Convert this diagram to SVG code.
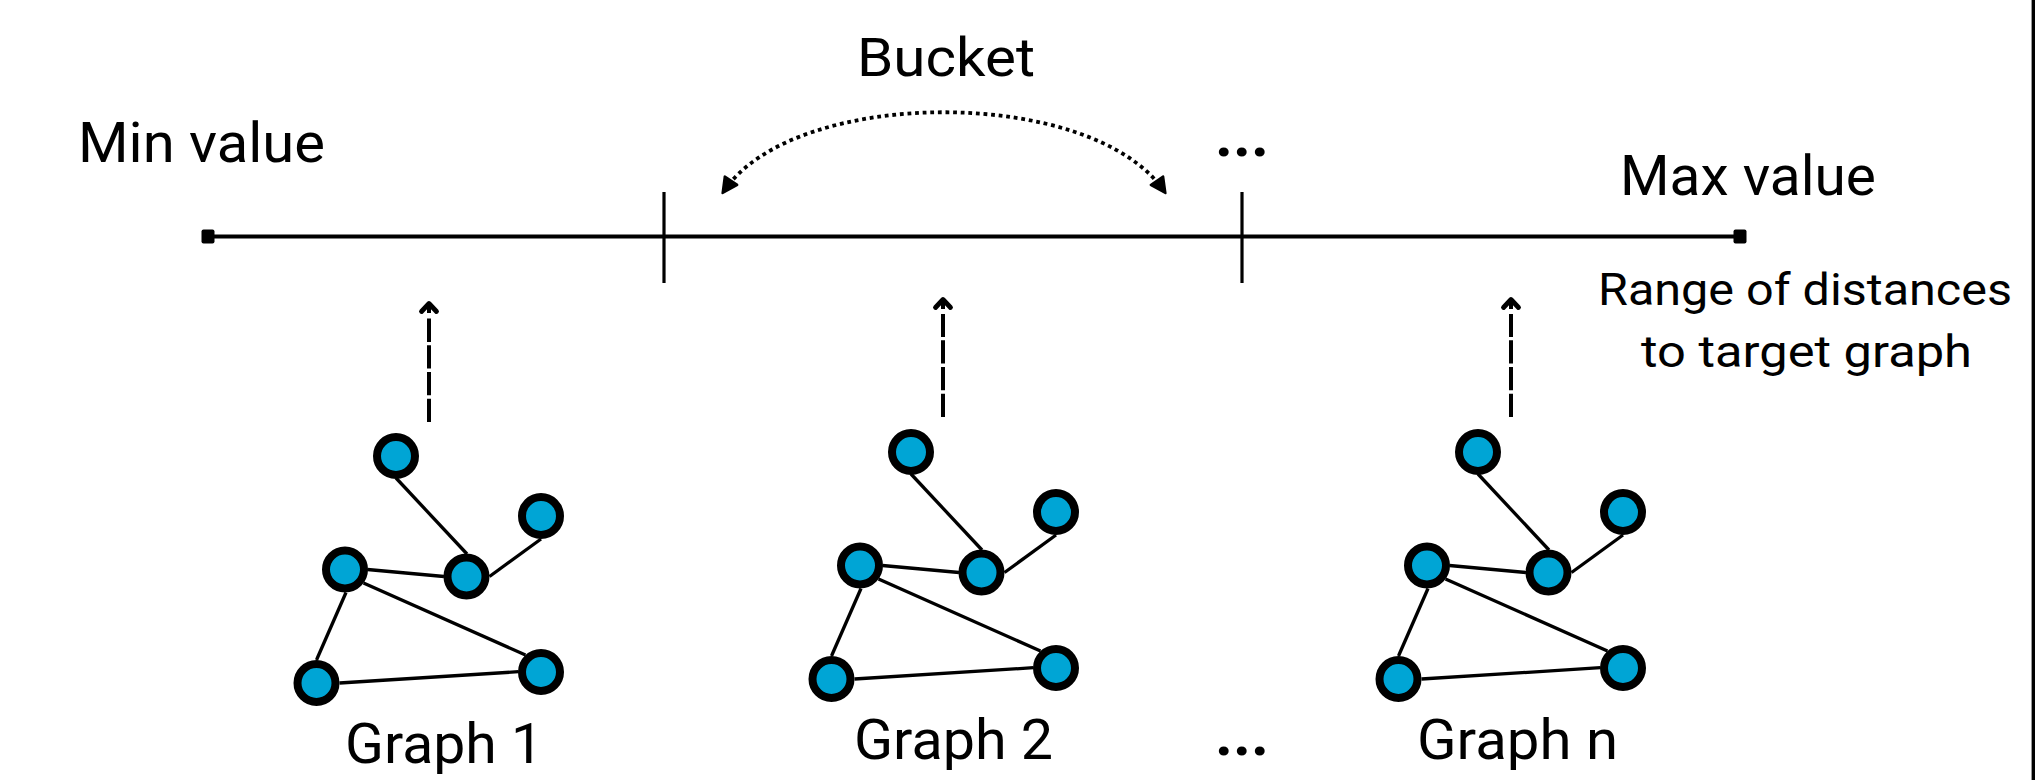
<svg xmlns="http://www.w3.org/2000/svg" width="2037" height="780" viewBox="0 0 2037 780">
  <style>
    .lbl { font-family: Roboto, "Liberation Sans", sans-serif; fill: #000; }
    .edge { stroke: #000; stroke-width: 3.3; }
    .node { fill: #00A5D5; stroke: #000; stroke-width: 8; }
    .axis { stroke: #000; stroke-width: 4; fill: none; }
    .tick { stroke: #000; stroke-width: 3.2; }
    .up { stroke: #000; stroke-width: 4; stroke-dasharray: 23.3 3.4; fill: none; }
    .arc { stroke: #000; stroke-width: 3.8; stroke-dasharray: 3.8 3.8; fill: none; }
  </style>
  <defs>
    <marker id="endBox" markerUnits="userSpaceOnUse" viewBox="-8 -8 16 16" refX="0" refY="0" markerWidth="16" markerHeight="16" orient="auto">
      <rect x="-6.5" y="-7" width="13" height="14" rx="2" fill="#000"/>
    </marker>
    <!-- open chevron head, sits a little ahead of the dashed shaft -->
    <marker id="chev" markerUnits="userSpaceOnUse" viewBox="-2 -12 22 24" refX="0" refY="0" markerWidth="22" markerHeight="24" orient="auto">
      <path d="M 6.5 -7.5 L 14.5 0 L 6.5 7.5" fill="none" stroke="#000" stroke-width="4.8" stroke-linejoin="round" stroke-linecap="round"/>
      <line x1="5" y1="0" x2="14" y2="0" stroke="#000" stroke-width="4"/>
    </marker>
    <marker id="tri" markerUnits="userSpaceOnUse" viewBox="-16 -10 22 20" refX="0" refY="0" markerWidth="22" markerHeight="20" orient="auto-start-reverse">
      <path d="M 2.5 0 L -12.5 -7.5 L -12.5 7.5 Z" fill="#000" stroke="#000" stroke-width="2.4" stroke-linejoin="round"/>
    </marker>
    <!-- one small graph; edges meet the node rims -->
    <g id="graph">
      <line class="edge" x1="0" y1="22" x2="71" y2="98"/>
      <line class="edge" x1="145" y1="83" x2="93.5" y2="120.5"/>
      <line class="edge" x1="-28.5" y1="113.5" x2="48" y2="120.5"/>
      <line class="edge" x1="-32.5" y1="127" x2="129.5" y2="199"/>
      <line class="edge" x1="-50" y1="136.5" x2="-79.5" y2="204"/>
      <line class="edge" x1="-56.5" y1="227" x2="122.5" y2="215.7"/>
      <circle class="node" cx="0" cy="0" r="19"/>
      <circle class="node" cx="145" cy="60" r="19"/>
      <circle class="node" cx="70.5" cy="120.5" r="19"/>
      <circle class="node" cx="-51" cy="113.5" r="19"/>
      <circle class="node" cx="-79.5" cy="227" r="19"/>
      <circle class="node" cx="145" cy="216" r="19"/>
    </g>
  </defs>

  <rect x="0" y="0" width="2037" height="780" fill="#fff"/>
  <!-- frame edge on the right -->
  <line x1="2033.3" y1="0" x2="2033.3" y2="780" stroke="#000" stroke-width="3.4"/>

  <!-- distance axis -->
  <g id="axis">
    <line class="axis" x1="208" y1="236.5" x2="1740" y2="236.5" marker-start="url(#endBox)" marker-end="url(#endBox)"/>
    <line class="tick" x1="664" y1="192" x2="664" y2="283"/>
    <line class="tick" x1="1242" y1="192" x2="1242" y2="283"/>
  </g>

  <g id="labels">
    <text class="lbl" x="857" y="76" font-size="54" textLength="178" lengthAdjust="spacingAndGlyphs">Bucket</text>
    <text class="lbl" x="78" y="162" font-size="55" textLength="247" lengthAdjust="spacingAndGlyphs">Min value</text>
    <text class="lbl" x="1620" y="195" font-size="55" textLength="256" lengthAdjust="spacingAndGlyphs">Max value</text>
    <text class="lbl" x="1598" y="305" font-size="44" textLength="414" lengthAdjust="spacingAndGlyphs">Range of distances</text>
    <text class="lbl" x="1641" y="367" font-size="44" textLength="331" lengthAdjust="spacingAndGlyphs">to target graph</text>
    <text class="lbl" x="1242" y="156" font-size="62" font-weight="bold" text-anchor="middle">...</text>
    <text class="lbl" x="1242" y="755" font-size="62" font-weight="bold" text-anchor="middle">...</text>
  </g>

  <!-- connectors -->
  <g id="connectors">
    <path class="arc" d="M 724 191 C 795 86 1092 86 1164 191" marker-start="url(#tri)" marker-end="url(#tri)"/>
    <line class="up" x1="429" y1="422" x2="429" y2="318" marker-end="url(#chev)"/>
    <line class="up" x1="943" y1="417" x2="943" y2="314" marker-end="url(#chev)"/>
    <line class="up" x1="1511" y1="417" x2="1511" y2="314" marker-end="url(#chev)"/>
  </g>

  <g id="graph-1">
    <use href="#graph" x="396" y="456"/>
    <text class="lbl" x="345" y="763" font-size="56" textLength="198" lengthAdjust="spacingAndGlyphs">Graph 1</text>
  </g>
  <g id="graph-2">
    <use href="#graph" x="911" y="452"/>
    <text class="lbl" x="854" y="759" font-size="56" textLength="199" lengthAdjust="spacingAndGlyphs">Graph 2</text>
  </g>
  <g id="graph-n">
    <use href="#graph" x="1478" y="452"/>
    <text class="lbl" x="1417" y="759" font-size="56" textLength="201" lengthAdjust="spacingAndGlyphs">Graph n</text>
  </g>
</svg>
